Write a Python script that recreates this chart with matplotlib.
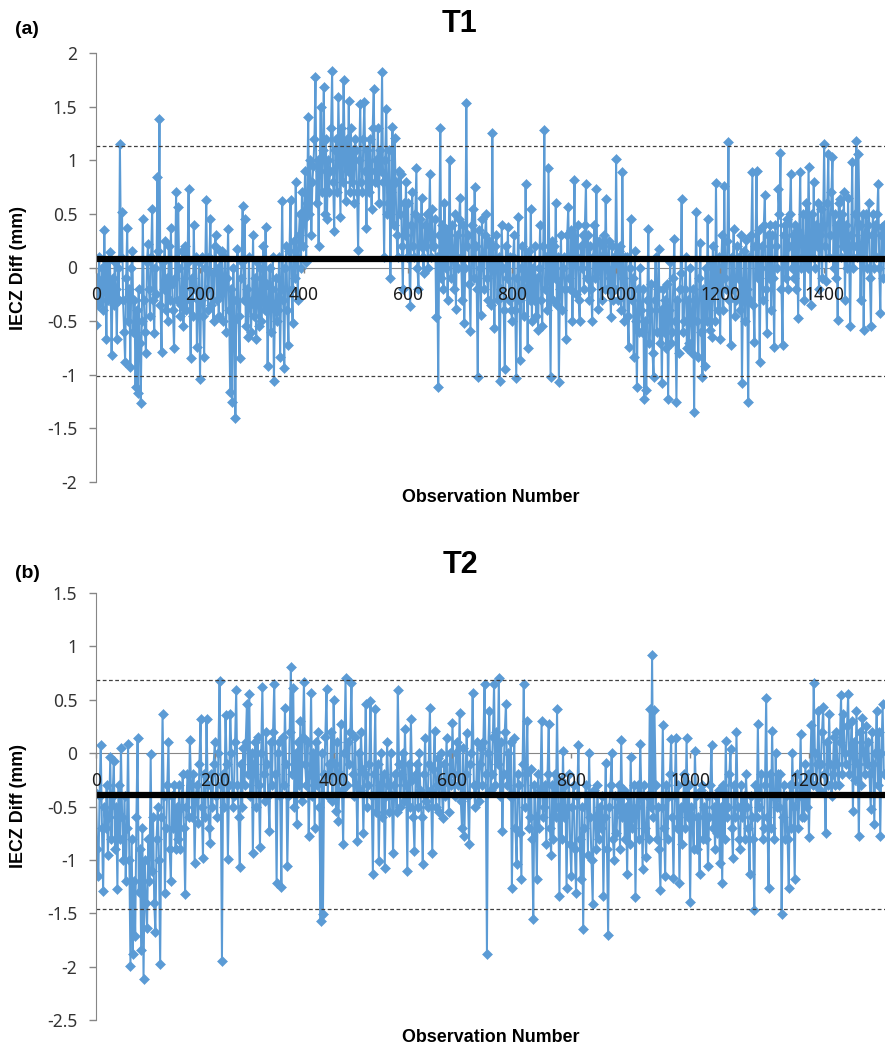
import matplotlib
matplotlib.use('Agg')
import matplotlib.pyplot as plt
import numpy as np

plt.rcParams['font.family'] = ['Noto Sans', 'DejaVu Sans']
BOLD = ['Liberation Sans', 'DejaVu Sans']

obs_step = 2

t1_diff = [
    -0.54, -0.1, -0.35, 0.1, -0.25, -0.3, 0.0, -0.4, 0.35, -0.2, -0.67, 0.05, -0.3, 0.14, -0.15, -0.82, -0.1, -0.35, 0.05, -0.2, -0.67, 0.0, -0.3, 1.15, 0.1,
    0.52, -0.3, -0.6, -0.88, -0.1, 0.37, -0.5, -0.2, -0.93, 0.0, 0.15, -0.6, -0.3, -1.11, -0.4, -1.17, -0.2, -0.7, -1.26, -0.5, 0.45, -0.3, -0.6, -0.8, 0.05,
    0.22, -0.2, -0.45, 0.1, 0.55, -0.3, -0.61, 0.0, -0.25, 0.84, 0.15, 1.38, -0.35, -0.79, 0.05, -0.2, 0.25, -0.4, -0.1, -0.5, 0.2, -0.3, 0.37, -0.15, -0.4,
    -0.75, -0.1, 0.7, -0.3, 0.56, 0.0, -0.45, -0.35, 0.15, -0.55, -0.2, 0.2, -0.4, 0.05, 0.73, -0.3, -0.84, -0.1, -0.45, 0.4, -0.2, 0.1, -0.74, -0.3, 0.05,
    -1.04, -0.3, 0.1, -0.45, -0.83, 0.0, 0.63, -0.2, -0.4, 0.1, 0.45, -0.35, -0.05, -0.5, 0.2, 0.3, -0.3, 0.0, -0.45, 0.15, -0.25, 0.15, -0.5, -0.1, 0.1,
    -0.6, -0.1, 0.36, -0.4, -1.16, -0.2, -1.25, 0.0, -0.5, -1.4, -0.3, 0.17, -0.45, -0.84, -0.1, 0.05, 0.57, -0.3, 0.45, -0.55, -0.2, -0.65, 0.1, -0.35, -0.6,
    -0.3, 0.3, -0.45, -0.1, -0.67, 0.05, -0.3, -0.55, 0.0, -0.5, -0.2, 0.2, -0.4, 0.38, -0.15, -0.92, -0.3, 0.0, -0.6, -0.2, 0.1, -1.06, -0.4, -0.1, -0.5,
    -0.4, 0.1, -0.83, -0.2, 0.62, -0.3, -0.94, 0.0, 0.2, -0.4, -0.72, 0.15, 0.63, -0.2, -0.52, 0.25, -0.1, 0.8, 0.1, -0.3, 0.3, 0.5, 0.0, 0.7, 0.2,
    0.45, 0.9, 0.05, 0.6, 1.4, 0.5, 1.0, 0.3, 0.8, 0.95, 1.2, 1.78, 0.6, 1.0, 0.2, 0.9, 1.5, 0.7, 1.1, 1.68, 0.5, 1.2, 0.45, 1.0, 0.7,
    0.9, 1.3, 1.83, 0.8, 0.34, 1.1, 1.2, 0.7, 1.59, 1.0, 0.47, 1.3, 0.8, 1.75, 1.1, 0.62, 1.2, 0.9, 1.55, 0.7, 1.3, 0.8, 1.1, 0.6, 1.2,
    1.1, 0.7, 0.16, 1.0, 1.52, 0.8, 0.7, 1.2, 1.54, 0.9, 0.37, 1.1, 0.7, 1.2, 0.9, 0.55, 1.3, 1.66, 0.8, 1.0, 0.8, 1.3, 0.6, 1.1, 0.9,
    1.82, 0.8, 0.1, 1.0, 1.48, 0.5, 0.6, 1.1, -0.1, 0.7, 1.31, 0.4, 1.21, 0.8, 0.3, 0.1, 0.9, 0.5, 0.87, 0.2, -0.2, 0.6, 0.3, 0.8, 0.1,
    0.6, 0.1, -0.36, 0.4, 0.7, 0.2, 0.1, 0.5, 0.93, 0.0, -0.2, 0.45, 0.2, 0.65, 0.1, -0.05, 0.4, 0.2, 0.5, 0.0, 0.3, 0.87, 0.1, 0.55, 0.2,
    0.2, 0.45, -0.46, 0.1, -1.11, 0.3, 1.3, -0.1, 0.4, -0.2, 0.6, 0.0, 0.35, -0.3, 0.2, 1.0, -0.1, 0.4, 0.1, -0.2, 0.5, -0.39, 0.3, 0.0, 0.45,
    0.65, 0.1, -0.3, 0.4, -0.52, 0.0, 1.53, 0.2, 0.3, -0.15, -0.59, 0.4, 0.55, -0.1, 0.75, 0.2, -0.2, -1.02, 0.35, 0.0, -0.44, 0.45, 0.1, -0.2, 0.3,
    0.5, -0.1, -0.3, 0.25, 0.2, -0.35, 1.25, 0.0, -0.56, 0.2, 0.3, -0.3, 0.1, -1.06, -0.2, 0.4, 0.0, -0.4, -0.95, 0.2, -0.1, 0.38, -0.3, 0.1, -0.4,
    -0.5, 0.1, 0.3, -0.4, -1.03, -0.1, 0.47, -0.3, -0.86, 0.0, 0.2, -0.45, -0.2, 0.78, -0.1, -0.75, 0.15, -0.3, 0.55, -0.5, 0.0, -0.3, 0.2, -0.45, -0.1,
    -0.58, 0.0, 0.4, -0.3, -0.55, 0.2, 1.28, -0.2, 0.1, -0.4, 0.93, 0.0, -1.02, 0.25, -0.3, 0.2, -0.1, 0.6, -0.35, 0.1, -1.07, -0.2, 0.3, -0.4, 0.0,
    0.1, -0.2, -0.67, 0.3, 0.56, -0.1, -0.2, 0.35, -0.5, 0.1, 0.82, -0.25, 0.1, 0.4, -0.3, -0.5, 0.2, 0.0, 0.3, -0.2, 0.4, 0.78, -0.1, 0.3, -0.3,
    0.2, -0.2, -0.5, 0.1, 0.4, -0.1, 0.73, 0.0, -0.39, 0.25, 0.1, -0.3, 0.2, 0.3, -0.2, 0.64, 0.0, -0.2, 0.25, -0.1, -0.46, 0.2, -0.3, 0.1, -0.2,
    1.01, 0.0, -0.3, 0.15, 0.2, -0.4, 0.89, -0.1, -0.5, 0.1, 0.1, -0.45, -0.74, 0.0, 0.45, -0.3, -0.1, -0.83, 0.15, -0.5, -1.11, -0.2, -0.6, 0.0, -0.4,
    -0.6, -0.2, -1.23, -0.5, -1.14, -0.3, 0.36, -0.7, -0.4, -0.15, -0.8, -1.02, -0.3, 0.1, -0.6, -0.2, 0.17, -0.7, -0.4, -1.08, -0.2, -0.6, -0.3, -0.75, -0.15,
    -1.23, -0.4, 0.05, -0.7, -0.6, -0.1, 0.27, -0.5, -1.25, -0.3, -0.8, -0.2, -0.05, 0.64, -0.6, -0.5, -0.2, 0.1, -0.75, -0.3, -0.7, 0.0, -0.5, -0.8, -0.2,
    -1.35, -0.3, 0.52, -0.5, -0.83, -0.1, 0.23, -0.6, -1.02, -0.2, -0.92, 0.0, -0.5, 0.45, -0.3, -0.58, 0.05, -0.65, 0.2, -0.2, -0.5, 0.79, -0.1, -0.4, 0.1,
    -0.67, 0.0, 0.3, -0.4, 0.76, -0.1, -0.2, 0.25, 1.17, -0.3, -0.72, 0.1, -0.2, 0.36, -0.45, -0.3, 0.2, -0.1, 0.1, -0.4, 0.3, -1.08, -0.2, 0.15, -0.5,
    0.26, -0.2, -1.25, 0.1, -0.3, 0.3, 0.89, -0.35, -0.69, 0.2, 0.9, -0.1, 0.35, -0.88, 0.0, 0.2, -0.3, 0.4, 0.68, -0.2, -0.61, 0.3, -0.1, 0.4, -0.4,
    0.3, -0.1, -0.74, 0.4, 0.2, 0.0, 0.73, 0.5, 1.07, -0.2, -0.72, 0.3, 0.4, -0.1, 0.45, -0.2, 0.2, 0.5, 0.87, 0.0, 0.3, -0.1, 0.4, -0.2, 0.35,
    -0.47, 0.3, 0.89, 0.0, 0.1, 0.5, -0.3, 0.2, 0.6, 0.0, 0.94, 0.3, -0.35, 0.5, 0.1, 0.8, 0.0, 0.4, 0.2, 0.6, -0.2, 0.3, 0.55, -0.1, 0.4,
    1.15, 0.2, -0.13, 0.6, 1.06, 0.1, 0.3, 0.7, 1.03, 0.0, 0.5, -0.1, 0.4, -0.49, 0.6, 0.64, 0.1, 0.5, 0.2, 0.7, -0.3, 0.4, 0.0, 0.65, 0.2,
    -0.55, 0.3, 0.98, 0.0, 0.2, 0.5, 1.18, 0.1, 1.06, 0.4, -0.3, 0.2, 0.5, -0.58, 0.3, 0.5, 0.0, 0.4, 0.6, -0.1, -0.55, 0.3, 0.5, 0.0, 0.4,
    0.1, 0.5, 0.78, 0.0, -0.42, 0.3, 0.38, -0.1, 0.4]

t2_diff = [
    -0.37, -0.9, -1.15, -0.4, 0.08, -0.7, -1.29, -0.5, -0.7, -0.3, -0.95, -0.6, -0.04, -0.8, -0.4, -0.07, -0.9, -0.5, -1.27, -0.3, -0.8, 0.05, -0.6, -1.0, -0.4,
    -1.2, -0.7, 0.09, -1.0, -1.99, -0.8, -1.88, -1.2, -1.71, -0.6, 0.14, -1.3, -0.9, -1.84, -0.7, -2.12, -1.0, -1.4, -1.64, -0.8, -1.2, -0.01, -1.1, -0.6, -1.4,
    -1.68, -0.8, -0.5, -1.0, -1.98, -0.6, 0.37, -0.4, -1.31, -0.7, -0.3, 0.1, -0.9, -1.2, -0.4, -0.7, -0.3, -0.9, -0.5, -0.8, -0.3, -0.9, -0.5, -0.2, -0.7,
    -1.32, -0.5, -0.2, -0.6, 0.12, -0.3, -0.6, -0.2, -1.03, -0.4, -0.3, -0.65, -0.1, 0.32, -0.5, -0.98, -0.2, -0.6, 0.32, -0.3, -0.7, -0.84, -0.2, -0.5, -0.1,
    0.1, -0.4, -0.6, 0.0, 0.68, -0.3, -1.95, -0.2, -0.5, 0.36, -0.1, -0.99, -0.3, 0.37, 0.0, -0.5, -0.4, 0.1, 0.59, -0.3, -0.6, -1.07, -0.1, -0.5, 0.05,
    -0.3, 0.1, 0.46, -0.2, 0.55, -0.4, 0.0, -0.94, -0.1, 0.1, -0.5, 0.15, -0.3, -0.88, 0.0, 0.62, -0.2, -0.45, 0.2, -0.1, -0.4, -0.73, 0.1, -0.3, 0.2,
    0.65, -0.2, -1.22, 0.0, 0.1, -0.4, -1.25, 0.15, -0.3, 0.42, -0.1, -1.06, -0.4, 0.2, 0.81, -0.2, 0.61, -0.5, 0.0, -0.66, 0.1, -0.3, 0.3, -0.45, 0.15,
    0.67, -0.1, -0.3, 0.1, -0.78, -0.2, 0.56, -0.4, 0.0, -0.7, 0.1, -0.3, 0.2, -0.5, -1.57, 0.0, -1.51, -0.2, 0.15, 0.6, -0.4, -0.1, -0.2, 0.2, -0.45,
    0.5, -0.1, -0.54, 0.1, -0.64, -0.2, 0.27, -0.35, -0.85, 0.0, 0.7, -0.3, 0.1, -0.1, 0.2, 0.66, -0.2, -0.4, 0.15, -0.3, -0.82, 0.0, -0.35, 0.2, -0.15,
    -0.75, -0.2, 0.46, -0.5, -0.3, -0.1, 0.49, -0.4, -1.13, -0.2, 0.41, -0.55, -0.1, -1.01, -0.3, 0.0, -0.6, -0.2, -1.08, -0.4, 0.1, -0.3, -0.55, 0.0, -0.4,
    -0.94, -0.3, -0.2, -0.55, 0.59, -0.1, -0.5, -0.2, 0.0, -0.45, 0.23, -0.3, -1.1, -0.1, -0.5, 0.32, -0.25, -0.6, -0.92, -0.2, -0.1, -0.5, 0.0, -0.35, -0.6,
    -1.04, -0.2, 0.14, -0.45, -0.5, -0.1, 0.42, -0.35, -0.94, -0.15, 0.21, -0.5, -0.3, -0.05, -0.55, 0.0, -0.3, -0.61, -0.1, -0.4, 0.14, -0.25, -0.55, 0.0, -0.3,
    0.28, -0.2, -0.4, 0.0, 0.1, -0.3, 0.38, -0.45, -0.7, 0.05, -0.78, -0.2, 0.19, -0.4, -0.85, -0.1, 0.0, 0.56, -0.3, -0.5, -0.3, 0.1, -0.45, -0.1, 0.05,
    -0.3, 0.1, 0.65, -0.2, -1.88, 0.0, 0.39, -0.35, -0.2, 0.15, 0.65, -0.3, 0.2, -0.1, 0.7, -0.4, 0.1, -0.73, -0.2, 0.2, 0.46, -0.3, 0.0, -0.4, 0.1,
    -1.26, -0.4, 0.14, -0.7, -1.04, -0.2, -0.3, -0.75, -1.18, -0.1, 0.65, -0.5, -0.2, 0.3, -0.7, -0.6, -0.15, -0.8, -1.55, -0.3, -0.6, -1.18, -0.2, -0.7, -0.35,
    0.3, -0.6, -0.5, -0.3, -0.85, -0.2, 0.27, -0.7, -0.95, -0.3, -0.8, -0.2, -0.6, 0.41, -0.5, -1.34, -0.25, -0.8, 0.02, -0.6, -0.3, -1.26, -0.5, -0.2, -0.85,
    -1.15, -0.5, -0.3, -0.9, -1.31, -0.4, 0.08, -0.8, -1.18, -0.5, -1.65, -0.7, -0.3, -0.4, -0.95, 0.0, -0.6, -1.0, -1.41, -0.35, -0.6, -0.9, -0.3, -0.8, -0.5,
    -0.7, -0.4, -1.34, -0.6, -0.09, -0.9, -1.7, -0.5, -0.3, 0.0, -0.8, -1.0, -0.4, -0.75, -0.5, -0.3, -0.9, 0.12, -0.6, -0.35, -0.8, -0.5, -1.13, -0.4, -0.85,
    -0.04, -0.7, -0.6, -0.3, -1.35, -0.5, -0.3, -0.8, 0.09, -0.4, -1.09, -0.3, -0.7, -0.97, -0.4, -0.8, 0.41, -0.5, 0.92, -0.6, 0.4, -0.3, -0.8, -0.5, -0.9,
    -1.28, -0.5, 0.26, -0.7, -1.15, -0.3, -0.8, -0.4, -0.2, 0.13, -0.6, -1.17, -0.4, 0.14, -0.7, -0.3, -1.22, -0.5, -0.85, -0.5, -0.2, -0.7, 0.14, -0.6, -0.3,
    -1.39, -0.5, -0.6, -0.9, 0.02, -0.4, -0.9, -0.6, -1.13, -0.35, -0.3, -0.8, -0.5, -0.8, -0.4, -1.06, -0.6, -0.3, 0.08, -0.7, -0.5, -0.9, -0.4, -0.75, -0.35,
    -1.03, -0.5, -1.22, -0.3, -0.8, 0.11, -0.6, -0.5, -0.2, 0.04, -0.7, -0.98, -0.3, -0.6, 0.2, -0.5, -0.8, -0.9, -0.3, -0.6, -0.4, -0.8, -0.2, -0.5, -0.7,
    -1.13, -0.4, -0.6, -0.8, -1.47, -0.3, -0.6, 0.27, -0.5, -0.4, -0.2, -0.8, -0.7, -0.3, 0.52, -0.6, -1.26, -0.2, -0.7, 0.21, -0.4, -0.8, 0.0, -0.5, -0.2,
    -0.5, -0.2, -1.51, -0.6, -0.3, -0.8, -0.4, -0.8, -1.26, -0.3, -0.7, 0.0, -0.5, -1.18, -0.3, -0.2, -0.7, -0.4, 0.18, -0.6, -0.3, -0.6, -0.1, -0.5, -0.2,
    -0.79, -0.2, 0.26, -0.3, 0.66, 0.0, -0.3, -0.1, 0.39, -0.35, -0.1, 0.2, 0.43, -0.2, -0.75, 0.1, -0.3, 0.37, -0.1, -0.4, -0.2, 0.15, -0.3, 0.2, -0.1,
    -0.3, 0.1, 0.54, -0.2, 0.37, 0.0, -0.1, 0.25, 0.55, -0.2, 0.0, 0.3, -0.54, 0.1, -0.25, 0.39, -0.1, -0.78, 0.2, -0.3, 0.33, 0.0, -0.2, 0.25, -0.1,
    0.1, -0.2, -0.52, 0.2, -0.1, -0.66, 0.0, 0.39, -0.3, 0.2, -0.78, 0.0, 0.46, -0.2]

# mean and limit lines
t1_mean, t1_upper, t1_lower = 0.075, 1.13, -1.01
t2_mean, t2_upper, t2_lower = -0.395, 0.685, -1.46

t1_yticks = [2, 1.5, 1, 0.5, 0, -0.5, -1, -1.5, -2]
t2_yticks = [1.5, 1, 0.5, 0, -0.5, -1, -1.5, -2, -2.5]
t1_xticks = [0, 200, 400, 600, 800, 1000, 1200, 1400]
t2_xticks = [0, 200, 400, 600, 800, 1000, 1200]

blue = '#5B9BD5'
grey = '#868686'
txt = '#333333'

W, H = 885, 1044
fig = plt.figure(figsize=(W / 100, H / 100), dpi=100)


def panel(top, bottom, vals, mean, upper, lower, yticks, xticks, xmax,
          tag, title, tag_y, title_y, xlab_y):
    ax = fig.add_axes([96 / W, 1 - bottom / H, (W - 96) / W, (bottom - top) / H])
    ax.set_axisbelow(False)  # tick labels sit on top of the data, like excel
    x = np.arange(len(vals)) * obs_step
    ax.plot(x, vals, color=blue, lw=1.45, marker='D', ms=5,
            mfc=blue, mec=blue, mew=0.4, zorder=2)
    ax.axhline(mean, color='black', lw=4.5, zorder=2.4)
    for v in (upper, lower):
        ax.axhline(v, color='#404040', lw=0.9, ls=(0, (3, 2)), zorder=2.3)

    ax.set_xlim(0, xmax)
    ax.set_ylim(min(yticks), max(yticks))
    ax.set_yticks(yticks)
    ax.set_yticklabels(['%g' % v for v in yticks])
    ax.set_xticks(xticks)
    ax.set_xticklabels([str(v) for v in xticks])

    for s in ('top', 'right'):
        ax.spines[s].set_visible(False)
    ax.spines['left'].set_color(grey)
    ax.spines['bottom'].set_color(grey)
    ax.spines['bottom'].set_position(('data', 0))
    ax.spines['bottom'].set_zorder(1)

    ax.tick_params(axis='y', direction='out', length=5, width=1, color=grey,
                   pad=8.5, labelsize=12.5, labelcolor=txt)
    ax.tick_params(axis='x', direction='out', length=3.5, width=1, color=grey,
                   pad=10, labelsize=12.5, labelcolor='#1a1a1a')

    ax.set_ylabel('IECZ Diff (mm)', fontsize=12.9, fontweight='bold',
                  family=BOLD, color='black')
    ax.yaxis.label.set_va('center')
    ax.yaxis.set_label_coords((19 - 96) / (W - 96), 0.5)
    ax.set_xlabel('Observation Number', fontsize=12.9, fontweight='bold',
                  family=BOLD, color='black')
    ax.xaxis.label.set_va('center')
    ax.xaxis.set_label_coords(0.5, (bottom - xlab_y) / (bottom - top))

    fig.text(27 / W, 1 - tag_y / H, tag, ha='center', va='center',
             fontsize=14, fontweight='bold', family=BOLD)
    fig.text(460 / W, 1 - title_y / H, title, ha='center', va='center',
             fontsize=22, fontweight='bold', family=BOLD)
    return ax


panel(53, 482, t1_diff, t1_mean, t1_upper, t1_lower, t1_yticks, t1_xticks, 1517,
      '(a)', 'T1', 29, 24, 498)
panel(593, 1020, t2_diff, t2_mean, t2_upper, t2_lower, t2_yticks, t2_xticks, 1328,
      '(b)', 'T2', 574, 565, 1037)

fig.savefig('out.png', dpi=100)
